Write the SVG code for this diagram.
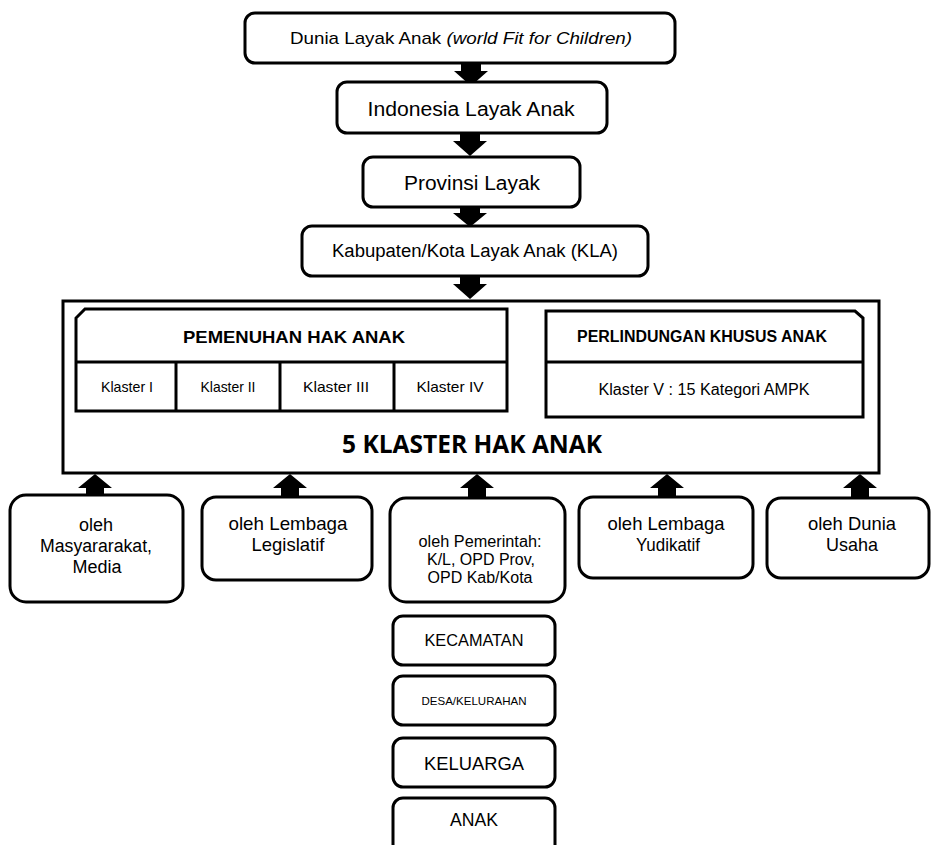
<svg xmlns="http://www.w3.org/2000/svg" width="932" height="845" viewBox="0 0 932 845">
<style>
.box{fill:#fff;stroke:#000;stroke-width:3}
.ln{fill:none;stroke:#000;stroke-width:3}
.arr{fill:#000;stroke:none}
text{font-family:"Liberation Sans",Arial,sans-serif;fill:#000;text-anchor:middle}
.b{font-weight:bold}
.big{font-family:"Open Sans","Liberation Sans",sans-serif;font-weight:bold;font-size:25px}
</style>
<rect width="932" height="845" fill="#fff"/>
<g id="connectors">
<polygon class="arr" points="461,63 481,63 481,71 488,71 471,86 454,71 461,71"/>
<polygon class="arr" points="460,133 480,133 480,141 487,141 470,156 453,141 460,141"/>
<polygon class="arr" points="460,207 480,207 480,213 487,213 470,227 453,213 460,213"/>
<polygon class="arr" points="460,276 480,276 480,284 487,284 470,299 453,284 460,284"/>
<polygon class="arr" points="86,497 104,497 104,488 112,488 95,474 78,488 86,488"/>
<polygon class="arr" points="281,499 299,499 299,488 307,488 290,474 273,488 281,488"/>
<polygon class="arr" points="468,500 486,500 486,488 494,488 477,474 460,488 468,488"/>
<polygon class="arr" points="658,499 676,499 676,488 684,488 667,474 650,488 658,488"/>
<polygon class="arr" points="851,500 869,500 869,488 877,488 860,474 843,488 851,488"/>
</g>
<g id="n-dunia">
<rect class="box" x="245" y="13" width="430" height="50" rx="10"/>
<text x="461" y="44" font-size="17" textLength="342" lengthAdjust="spacingAndGlyphs">Dunia Layak Anak <tspan font-style="italic">(world Fit for Children)</tspan></text>
</g>
<g id="n-indonesia">
<rect class="box" x="337" y="82" width="270" height="51" rx="10"/>
<text x="471" y="116" font-size="20" textLength="207" lengthAdjust="spacingAndGlyphs">Indonesia Layak Anak</text>
</g>
<g id="n-provinsi">
<rect class="box" x="363" y="157" width="217" height="50" rx="10"/>
<text x="472" y="190" font-size="20" textLength="136" lengthAdjust="spacingAndGlyphs">Provinsi Layak</text>
</g>
<g id="n-kabupaten">
<rect class="box" x="302" y="226" width="346" height="50" rx="10"/>
<text x="475" y="257" font-size="18" textLength="286" lengthAdjust="spacingAndGlyphs">Kabupaten/Kota Layak Anak (KLA)</text>
</g>
<g id="n-klaster">
<rect class="box" x="63" y="301" width="816" height="172"/>
<text class="big" x="472" y="453" textLength="260" lengthAdjust="spacingAndGlyphs">5 KLASTER HAK ANAK</text>
</g>
<g id="n-pemenuhan">
<path class="box" d="M85,309 L507,309 L507,411 L76,411 L76,318 Z"/>
<line class="ln" x1="76" y1="362" x2="507" y2="362"/>
<line class="ln" x1="176" y1="362" x2="176" y2="411"/>
<line class="ln" x1="280" y1="362" x2="280" y2="411"/>
<line class="ln" x1="394" y1="362" x2="394" y2="411"/>
<text class="b" x="294" y="343" font-size="17" textLength="222" lengthAdjust="spacingAndGlyphs">PEMENUHAN HAK ANAK</text>
<text x="127" y="392" font-size="14.5" textLength="52" lengthAdjust="spacingAndGlyphs">Klaster I</text>
<text x="228" y="392" font-size="14.5" textLength="55" lengthAdjust="spacingAndGlyphs">Klaster II</text>
<text x="336" y="392" font-size="14.5" textLength="66" lengthAdjust="spacingAndGlyphs">Klaster III</text>
<text x="450" y="392" font-size="14.5" textLength="67" lengthAdjust="spacingAndGlyphs">Klaster IV</text>
</g>
<g id="n-perlindungan">
<path class="box" d="M546,311 L855,311 L863,318 L863,417 L546,417 Z"/>
<line class="ln" x1="546" y1="362" x2="863" y2="362"/>
<text class="b" x="702" y="342" font-size="16" textLength="250" lengthAdjust="spacingAndGlyphs">PERLINDUNGAN KHUSUS ANAK</text>
<text x="704" y="395" font-size="16" textLength="211" lengthAdjust="spacingAndGlyphs">Klaster V : 15 Kategori AMPK</text>
</g>
<g id="n-masyarakat">
<rect class="box" x="10" y="495" width="173" height="107" rx="16"/>
<text x="96" y="531" font-size="18" textLength="34" lengthAdjust="spacingAndGlyphs">oleh</text>
<text x="96" y="552" font-size="18" textLength="112" lengthAdjust="spacingAndGlyphs">Masyararakat,</text>
<text x="97" y="573" font-size="18" textLength="49" lengthAdjust="spacingAndGlyphs">Media</text>
</g>
<g id="n-legislatif">
<rect class="box" x="202" y="497" width="170" height="83" rx="14"/>
<text x="288" y="530" font-size="18.5" textLength="119" lengthAdjust="spacingAndGlyphs">oleh Lembaga</text>
<text x="288" y="551" font-size="18.5" textLength="73" lengthAdjust="spacingAndGlyphs">Legislatif</text>
</g>
<g id="n-pemerintah">
<rect class="box" x="390" y="498" width="175" height="104" rx="16"/>
<text x="480" y="547" font-size="16" textLength="123" lengthAdjust="spacingAndGlyphs">oleh Pemerintah:</text>
<text x="481" y="565" font-size="16" textLength="108" lengthAdjust="spacingAndGlyphs">K/L, OPD Prov,</text>
<text x="480" y="583" font-size="16" textLength="105" lengthAdjust="spacingAndGlyphs">OPD Kab/Kota</text>
</g>
<g id="n-yudikatif">
<rect class="box" x="579" y="497" width="174" height="81" rx="14"/>
<text x="666" y="530" font-size="18.5" textLength="117" lengthAdjust="spacingAndGlyphs">oleh Lembaga</text>
<text x="668" y="551" font-size="18.5" textLength="64" lengthAdjust="spacingAndGlyphs">Yudikatif</text>
</g>
<g id="n-usaha">
<rect class="box" x="767" y="498" width="162" height="80" rx="14"/>
<text x="852" y="530" font-size="18.5" textLength="88" lengthAdjust="spacingAndGlyphs">oleh Dunia</text>
<text x="852" y="551" font-size="18.5" textLength="52" lengthAdjust="spacingAndGlyphs">Usaha</text>
</g>
<g id="n-kecamatan">
<rect class="box" x="393" y="616" width="162" height="49" rx="10"/>
<text x="474" y="646" font-size="16" textLength="99" lengthAdjust="spacingAndGlyphs">KECAMATAN</text>
</g>
<g id="n-desa">
<rect class="box" x="393" y="676" width="162" height="49" rx="10"/>
<text x="474" y="705" font-size="11.5" textLength="105" lengthAdjust="spacingAndGlyphs">DESA/KELURAHAN</text>
</g>
<g id="n-keluarga">
<rect class="box" x="393" y="738" width="162" height="49" rx="10"/>
<text x="474" y="770" font-size="18.5" textLength="100" lengthAdjust="spacingAndGlyphs">KELUARGA</text>
</g>
<g id="n-anak">
<rect class="box" x="393" y="798" width="162" height="60" rx="10"/>
<text x="474" y="826" font-size="17.5" textLength="48" lengthAdjust="spacingAndGlyphs">ANAK</text>
</g>
</svg>
